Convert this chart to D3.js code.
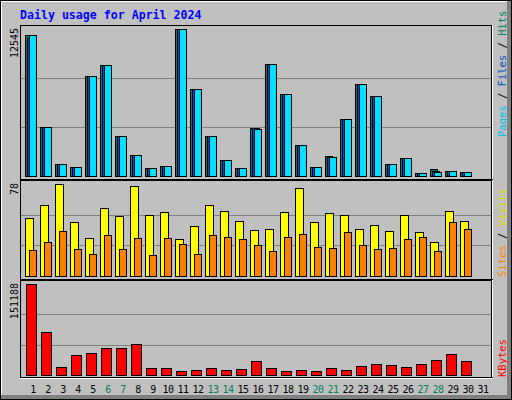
<!DOCTYPE html>
<html>
<head>
<meta charset="utf-8">
<script src="https://cdn.jsdelivr.net/npm/d3@7"></script>
<style>body{margin:0;background:#fff}</style>
</head>
<body>
<div id="chart"></div>
<script>
var width = 512
var height = 400

// Data
var days = d3.range(1, 32)
var weekends = [6, 7, 13, 14, 20, 21, 27, 28]
var hits = [12030, 4150, 1000, 740, 8500, 9450, 3390, 1770, 660, 830, 12545, 7400, 3390, 1340, 660, 4070,
    9530, 6970, 2620, 740, 1680, 4840, 7820, 6800, 1000, 1510, 230, 570, 400, 310, 0]
var files = [11800, 4150, 1000, 740, 8500, 9450, 3390, 1770, 660, 830, 12545, 7400, 3390, 1340, 660, 4070,
    9530, 6970, 2620, 740, 1640, 4840, 7820, 6800, 1000, 1510, 230, 450, 400, 310, 0]
var pages = [12030, 4150, 1000, 740, 8500, 9450, 3390, 1770, 660, 830, 12545, 7400, 3390, 1340, 660, 4000,
    9530, 6970, 2620, 740, 1600, 4840, 7820, 6800, 1000, 1510, 230, 340, 400, 310, 0]
var visits = [49, 60, 78, 46, 32, 58, 51, 76, 52, 54, 31, 42, 60, 55, 47, 39,
    40, 54, 75, 46, 53, 52, 40, 43, 38, 52, 37, 29, 55, 47, 0]
var sites = [22, 29, 38, 23, 19, 35, 23, 32, 18, 32, 27, 19, 35, 33, 31, 26,
    21, 33, 36, 25, 24, 37, 26, 23, 24, 31, 33, 21, 46, 40, 0]
var kbytes = [151188, 71440, 13290, 33230, 36550, 44860, 44860, 51500, 11630, 11630, 6650, 8300, 11630, 8300, 9970, 23260,
    11630, 6650, 8300, 6650, 11630, 8300, 14950, 18280, 16610, 13290, 18280, 24920, 34890, 23260, 0]

var svg = d3.select("#chart")
    .append("svg")
    .attr("width", width)
    .attr("height", height)
    .style("font-family", "DejaVu Sans Mono, monospace")

// Frame
svg.append("rect").attr("x", 0).attr("y", 0).attr("width", width).attr("height", height).attr("fill", "#000")
svg.append("rect").attr("x", 1).attr("y", 1).attr("width", width - 2).attr("height", height - 2).attr("fill", "#808080")
svg.append("rect").attr("x", 1).attr("y", 1).attr("width", width - 6).attr("height", height - 6).attr("fill", "#fff")
svg.append("rect").attr("x", 2).attr("y", 2).attr("width", width - 7).attr("height", height - 7).attr("fill", "#c0c0c0")

svg.append("text")
    .attr("x", 20).attr("y", 19)
    .attr("fill", "#0000ff")
    .style("font-size", "11.6px").style("font-weight", "bold")
    .text("Daily usage for April 2024")

var x = d3.scaleBand().domain(days).range([25, 490]).paddingInner(0)

// Panels
var panels = [
    {top: 25, bottom: 180, y: d3.scaleLinear().domain([0, 12545]).range([176, 29]), max: "12545", labelY: 28},
    {top: 180, bottom: 280, y: d3.scaleLinear().domain([0, 78]).range([276, 184]), max: "78", labelY: 183},
    {top: 280, bottom: 378, y: d3.scaleLinear().domain([0, 151188]).range([375, 284]), max: "151188", labelY: 283}
]

panels.forEach(function(p) {
    var max = p.y.domain()[1]
    var g = svg.append("g")
    g.append("line").attr("x1", 20).attr("x2", 491).attr("y1", p.top + 0.5).attr("y2", p.top + 0.5).attr("stroke", "#000")
    g.append("line").attr("x1", 20.5).attr("x2", 20.5).attr("y1", p.top).attr("y2", p.bottom).attr("stroke", "#000")
    g.append("line").attr("x1", 491.5).attr("x2", 491.5).attr("y1", p.top).attr("y2", p.bottom).attr("stroke", "#000")
    g.append("line").attr("x1", 492.5).attr("x2", 492.5).attr("y1", p.top).attr("y2", p.bottom).attr("stroke", "#fff")
    g.append("line").attr("x1", 20).attr("x2", 493).attr("y1", p.bottom - 0.5).attr("y2", p.bottom - 0.5).attr("stroke", "#000")
    g.append("line").attr("x1", 20).attr("x2", 493).attr("y1", p.bottom + 0.5).attr("y2", p.bottom + 0.5).attr("stroke", "#fff")
    g.selectAll(".grid")
        .data([max / 3, max * 2 / 3])
        .enter().append("line")
        .attr("x1", 21).attr("x2", 491)
        .attr("y1", function(d) { return Math.round(p.y(d)) + 0.5 })
        .attr("y2", function(d) { return Math.round(p.y(d)) + 0.5 })
        .attr("stroke", "#808080")
    g.append("text")
        .attr("transform", "translate(18," + p.labelY + ") rotate(-90)")
        .attr("text-anchor", "end")
        .style("font-size", "10px")
        .attr("fill", "#000")
        .text(p.max)
})

function bars(values, scale, dx, w, color) {
    svg.append("g")
        .selectAll("rect")
        .data(days.filter(function(d, i) { return values[i] > 0 }))
        .enter()
        .append("rect")
        .attr("x", function(d) { return x(d) + dx + 0.5 })
        .attr("y", function(d) { return Math.round(scale(values[d - 1])) + 0.5 })
        .attr("width", w)
        .attr("height", function(d) { return scale.range()[0] - Math.round(scale(values[d - 1])) })
        .attr("fill", color)
        .attr("stroke", "#000")
}

bars(hits, panels[0].y, 0, 7, "#00805c")
bars(files, panels[0].y, 2, 7, "#0040ff")
bars(pages, panels[0].y, 4, 7, "#00e0ff")
bars(visits, panels[1].y, 0, 8, "#ffff00")
bars(sites, panels[1].y, 4, 7, "#ff8000")
bars(kbytes, panels[2].y, 1, 10, "#ff0000")

// Right labels
function sideLabel(parts, y) {
    var t = svg.append("text")
        .attr("transform", "translate(506," + y + ") rotate(-90)")
        .attr("text-anchor", "start")
        .style("font-size", "10.5px")
    parts.forEach(function(p) {
        t.append("tspan").attr("fill", p[1]).text(p[0])
    })
}
sideLabel([["Pages", "#00c0e8"], [" / ", "#000"], ["Files", "#0050c0"], [" / ", "#000"], ["Hits", "#00805c"]], 137)
sideLabel([["Sites", "#ff8000"], [" / ", "#000"], ["Visits", "#e0e000"]], 277)
sideLabel([["KBytes", "#ff0000"]], 377)

// Day labels
svg.append("g")
    .selectAll("text")
    .data(days)
    .enter()
    .append("text")
    .attr("x", function(d) { return x(d) + x.bandwidth() / 2 + 0.5 })
    .attr("y", 393)
    .attr("text-anchor", "middle")
    .style("font-size", "10px")
    .style("letter-spacing", "-0.5px")
    .attr("fill", function(d) { return weekends.indexOf(d) >= 0 ? "#00805c" : "#000" })
    .text(function(d) { return d })
</script>
</body>
</html>
